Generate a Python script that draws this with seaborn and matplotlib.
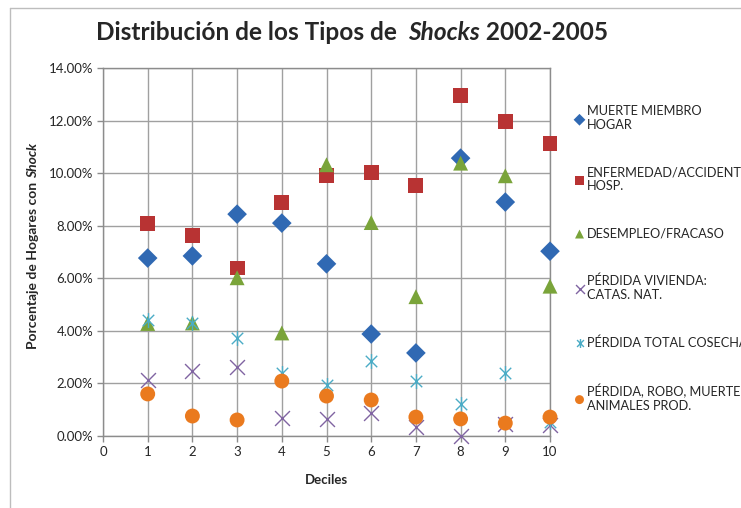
import numpy as np
import pandas as pd
import matplotlib
matplotlib.use("Agg")
import matplotlib.pyplot as plt
from matplotlib.path import Path
from matplotlib.lines import Line2D
import seaborn as sns

deciles = [1, 2, 3, 4, 5, 6, 7, 8, 9, 10]
muerte = [6.77, 6.85, 8.44, 8.10, 6.55, 3.88, 3.16, 10.57, 8.90, 7.03]
enfermedad = [8.10, 7.62, 6.39, 8.90, 9.92, 10.04, 9.52, 12.97, 11.97, 11.14]
desempleo = [4.28, 4.30, 6.02, 3.92, 10.32, 8.12, 5.30, 10.38, 9.90, 5.70]
vivienda = [2.13, 2.47, 2.62, 0.68, 0.65, 0.87, 0.35, 0.00, 0.45, 0.42]
cosecha = [4.42, 4.30, 3.72, 2.40, 1.94, 2.85, 2.09, 1.22, 2.40, 0.53]
animales = [1.60, 0.76, 0.61, 2.09, 1.52, 1.37, 0.72, 0.65, 0.49, 0.72]

series_names = [
    "MUERTE MIEMBRO\nHOGAR",
    "ENFERMEDAD/ACCIDENTE\nHOSP.",
    "DESEMPLEO/FRACASO",
    "PÉRDIDA VIVIENDA:\nCATAS. NAT.",
    "PÉRDIDA TOTAL COSECHA",
    "PÉRDIDA, ROBO, MUERTE\nANIMALES PROD.",
]
series_values = [muerte, enfermedad, desempleo, vivienda, cosecha, animales]

rows = []
for name, vals in zip(series_names, series_values):
    for d, v in zip(deciles, vals):
        rows.append({"Decil": d, "Valor": v / 100.0, "Serie": name})
df = pd.DataFrame(rows)

sns.set_style("white")
plt.rcParams["font.family"] = ["Lato", "DejaVu Sans"]

colors = ["#3069b3", "#b83333", "#7aa43a", "#8064A2", "#4BACC6", "#ea7a1e"]
palette = dict(zip(series_names, colors))

asterisk = Path(
    [(-1, -1), (1, 1), (-1, 1), (1, -1), (0, -1.3), (0, 1.3)],
    [Path.MOVETO, Path.LINETO, Path.MOVETO, Path.LINETO, Path.MOVETO, Path.LINETO],
)
xmark = Path(
    [(-1, -1), (1, 1), (-1, 1), (1, -1)],
    [Path.MOVETO, Path.LINETO, Path.MOVETO, Path.LINETO],
)
markers = dict(zip(series_names, ["D", "s", "^", xmark, asterisk, "o"]))

fig = plt.figure(figsize=(7.41, 5.08), dpi=100)
ax = fig.add_axes([103 / 741, 72 / 508, 447 / 741, 368 / 508])

for name in series_names:
    sub = df[df["Serie"] == name]
    filled = name not in (series_names[3], series_names[4])
    if filled:
        kw = dict(s=115 if name != series_names[0] else 100, edgecolor="none")
    else:
        kw = dict(s=115, edgecolor=palette[name], linewidth=1.0)
    sns.scatterplot(data=sub, x="Decil", y="Valor", color=palette[name],
                    marker=markers[name], ax=ax, label=name, zorder=3,
                    clip_on=False, **kw)

ax.set_xlim(0, 10)
ax.set_ylim(0, 0.14)
ax.set_xticks(range(0, 11))
ax.set_yticks(np.arange(0, 0.141, 0.02))
ax.set_yticklabels([f"{v*100:.2f}%" for v in np.arange(0, 0.141, 0.02)])
ax.grid(True, color="#a0a0a0", linewidth=1.0)
ax.set_axisbelow(True)
for sp in ax.spines.values():
    sp.set_color("#8c8c8c")
    sp.set_linewidth(1.0)
ax.tick_params(axis="both", which="both", length=4, width=1, color="#8c8c8c",
               labelsize=9.5, direction="out", pad=3, bottom=True, left=True)

ax.set_xlabel("Deciles", fontsize=9.5, fontweight="bold", labelpad=12)
ax.set_ylabel("")

fig.canvas.draw()
renderer = fig.canvas.get_renderer()
W = fig.bbox.width
H = fig.bbox.height

# title pieces (bold, with italic "Shocks")
title_parts = [("Distribución de los Tipos de  ", False), ("Shocks", True), (" 2002-2005", False)]
tobjs = [fig.text(0, 0, t, fontsize=17.6, fontweight="bold",
                  fontstyle="italic" if i else "normal", ha="left", va="center")
         for t, i in title_parts]
tw = [o.get_window_extent(renderer).width for o in tobjs]
cur = 352 - sum(tw) / 2
for o, w in zip(tobjs, tw):
    o.set_position((cur / W, 1 - 33 / H))
    cur += w

# y label (rotated) pieces
ylab_parts = [("Porcentaje de Hogares con ", False), ("Shock", True)]
objs = [fig.text(0, 0, t, fontsize=10, fontweight="bold",
                 fontstyle="italic" if i else "normal",
                 rotation=90, ha="center", va="bottom")
        for t, i in ylab_parts]
hs = [o.get_window_extent(renderer).height for o in objs]
cur = 246 + sum(hs) / 2
for o, h in zip(objs, hs):
    o.set_position((33 / W, 1 - cur / H))
    cur -= h

handles, labels = ax.get_legend_handles_labels()
leg = ax.legend(handles, labels, loc="upper left", bbox_to_anchor=(568 / 741, 1 - 100 / 508),
                bbox_transform=fig.transFigure, frameon=False, fontsize=9.2,
                handletextpad=0.1, labelspacing=2.75, markerscale=0.6,
                borderaxespad=0, handlelength=1.0)

# chart-area border (left and top edges visible in the reference)
fig.add_artist(Line2D([9.5 / W, 9.5 / W], [0, 1 - 7.5 / H], color="#bdbdbd",
                      linewidth=1.0, transform=fig.transFigure))
fig.add_artist(Line2D([9.5 / W, 1], [1 - 7.5 / H, 1 - 7.5 / H], color="#bdbdbd",
                      linewidth=1.0, transform=fig.transFigure))

fig.savefig("out.png", dpi=100)
